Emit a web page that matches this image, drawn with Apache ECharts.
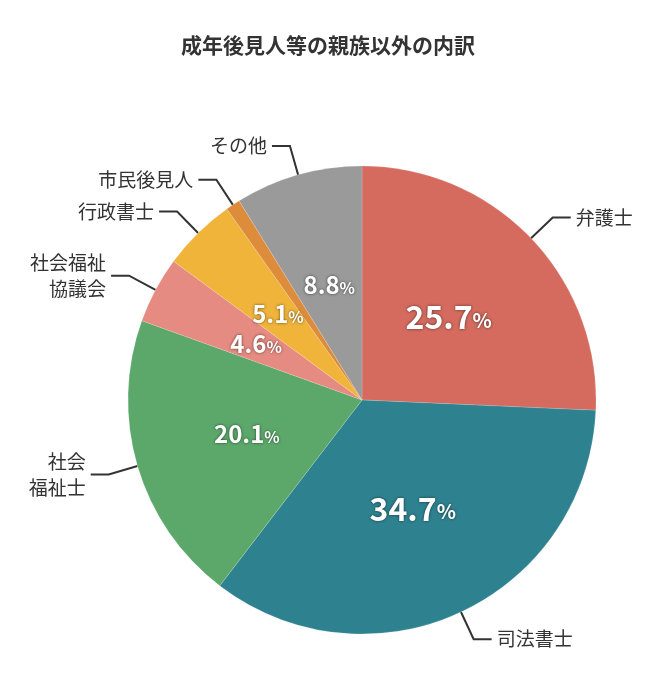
<!DOCTYPE html><html><head><meta charset="utf-8"><script src="https://cdn.jsdelivr.net/npm/echarts@6/dist/echarts.min.js"></script></head><body style="margin:0;background:#fff"><div id="c" style="width:656px;height:699px"></div><script>
const categories=['弁護士','司法書士','社会\n福祉士','社会福祉\n協議会','行政書士','市民後見人','その他'];
const values=[25.7,34.7,20.1,4.6,5.1,1,8.8];
const valueLabels=['25.7','34.7','20.1','4.6','5.1','1','8.8'];
const colors=['#d46b5e','#2e8290','#5ca86b','#e68b82','#f0b43b','#dc8c3a','#9a9a9a'];
const data=categories.map((n,i)=>({name:n,value:values[i],itemStyle:{color:colors[i]}}));
const big=[true,true,false,false,false,false,false];
const ch=echarts.init(document.getElementById('c'));
const ff='"Noto Sans CJK JP"';
ch.setOption({
title:{text:'成年後見人等の親族以外の内訳',left:'center',top:30,textStyle:{fontFamily:ff,fontSize:21,fontWeight:'bold',color:'#333'}},
series:[
{type:'pie',center:[362,400],radius:234,startAngle:90,clockwise:true,data:data,
itemStyle:{borderColor:'rgba(255,255,255,0.3)',borderWidth:0.5},
label:{position:'outside',fontFamily:ff,fontSize:19,color:'#333',lineHeight:26},
labelLine:{show:true,length:30,length2:18,lineStyle:{color:'#333',width:2}}},
{type:'pie',center:[362,400],radius:234,startAngle:90,silent:true,
data:data.map((d,i)=>({name:d.name,value:d.value,itemStyle:{color:'transparent'},
label:{formatter:'{v|'+valueLabels[i]+'}{p|%}',rich:{v:{fontSize:big[i]?32:24,fontWeight:'bold',color:'#fff',fontFamily:ff,textShadowColor:'rgba(0,0,0,0.6)',textShadowBlur:3},p:{fontSize:big[i]?20:16,fontWeight:'bold',color:'#fff',fontFamily:ff,textShadowColor:'rgba(0,0,0,0.6)',textShadowBlur:3,padding:[6,0,0,0]}}}})),
label:{position:'inner'},labelLine:{show:false}}
]});
</script></body></html>
